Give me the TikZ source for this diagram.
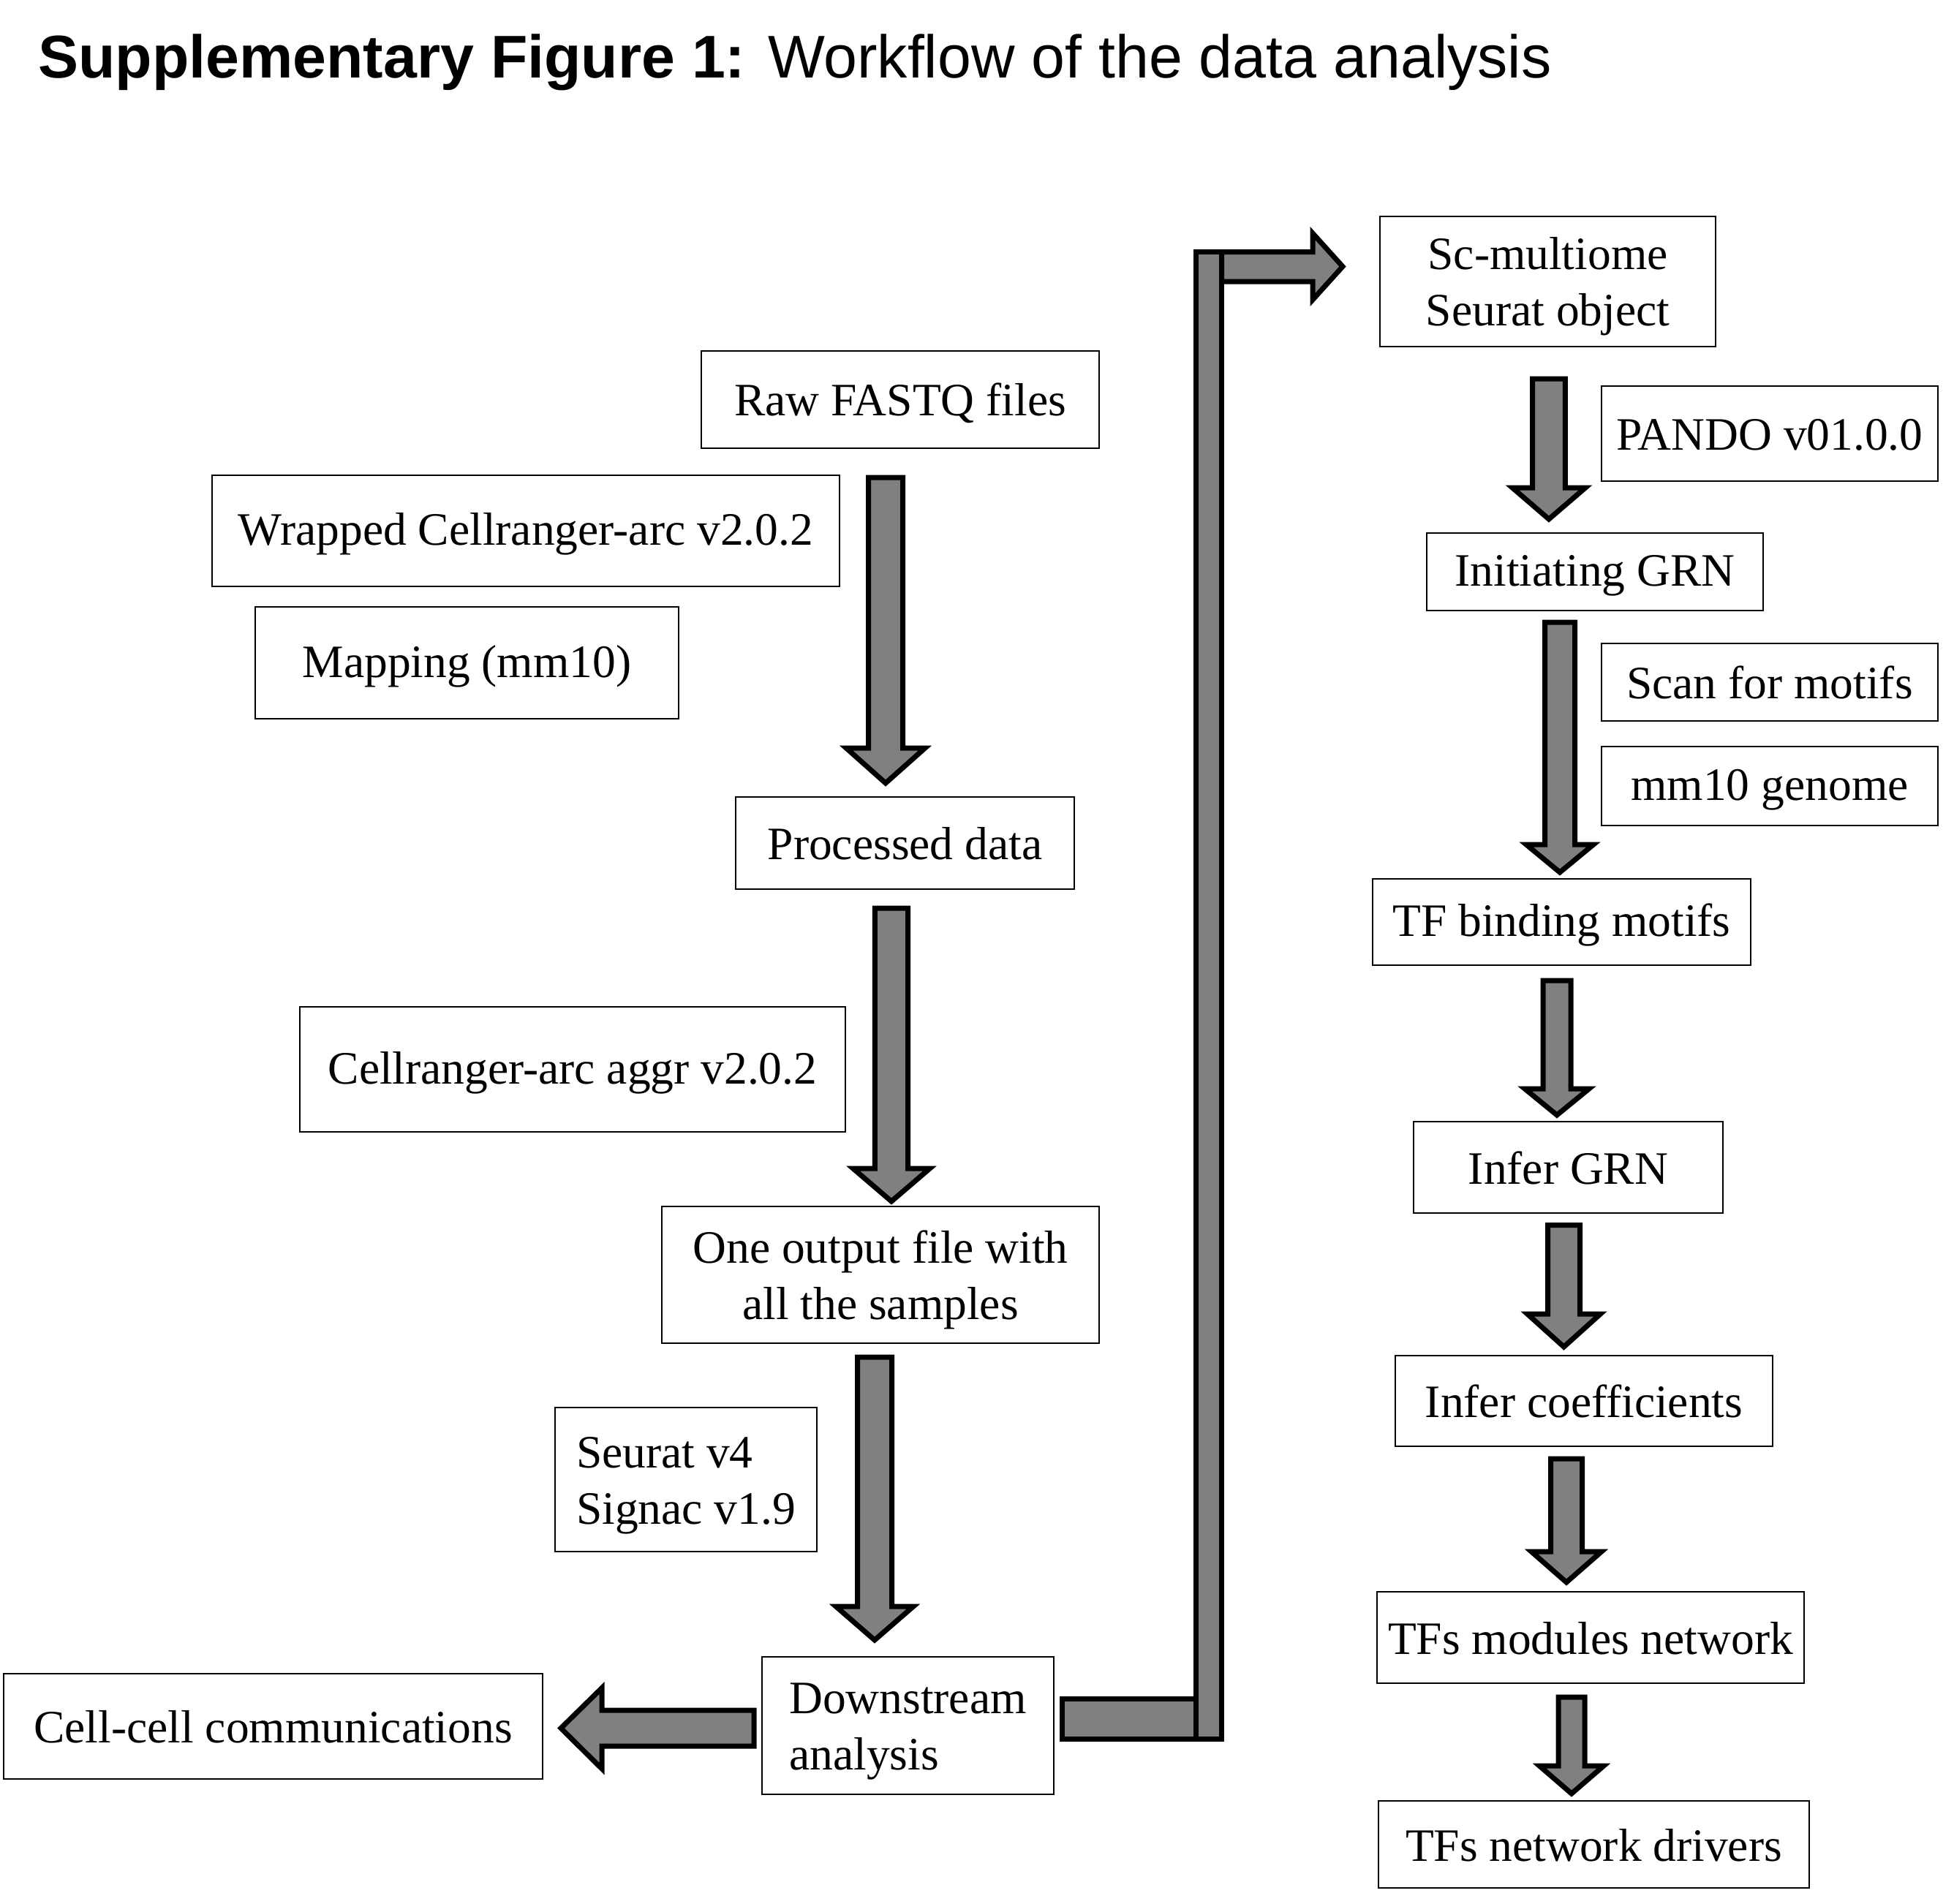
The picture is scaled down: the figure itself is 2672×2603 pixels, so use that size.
\documentclass[tikz,border=0pt]{standalone}
\usepackage{fontspec}
\setmainfont{Liberation Serif}
\newfontfamily\titlefont{Liberation Sans}
\definecolor{arrowgray}{HTML}{808080}
\newcommand{\st}{\rule[-0.12em]{0pt}{0.96em}}
\newcommand{\sd}{\rule[-0.06em]{0pt}{0.98em}}
\tikzset{
  box/.style={draw=black, line width=2.6pt, fill=white, inner sep=0pt,
    font=\fontsize{63.5}{77}\selectfont, align=center},
  blockarrow/.style={draw=black, fill=arrowgray, line width=7pt, line join=miter},
}
% box: name, x1, y1, x2, y2, text
\newcommand{\bx}[6]{\node[box, minimum width={#4-#2}, minimum height={#5-#3}] (#1) at ({(#2+#4)/2},{(#3+#5)/2}) {#6};}
\newcommand{\bxl}[6]{\node[box, align=left, minimum width={#4-#2}, minimum height={#5-#3}] (#1) at ({(#2+#4)/2},{(#3+#5)/2}) {#6};}
% down block arrow: cx, top, shoulder, tip, shaft half width, head half width
\newcommand{\downblk}[6]{\draw[blockarrow] ({#1-#5},#2) -- ({#1+#5},#2) -- ({#1+#5},#3) -- ({#1+#6},#3) -- (#1,#4) -- ({#1-#6},#3) -- ({#1-#5},#3) -- cycle;}
\begin{document}
\begin{tikzpicture}[x=1pt,y=-1pt]
\useasboundingbox (0,0) rectangle (2672,2603);
\node[anchor=base west, inner sep=0pt, font=\titlefont\fontsize{82.5}{99}\selectfont] (title) at (52,106)
  {\textbf{Supplementary Figure 1:} Workflow of the data analysis};

% left column
\bx{raw}{959}{480}{1503}{613}{\st Raw FASTQ files}
\bx{wrapped}{290}{650}{1148}{802}{\st Wrapped Cellranger-arc v2.0.2}
\bx{mapping}{349}{830}{928}{983}{\st Mapping (mm10)}
\bx{processed}{1006}{1090}{1469}{1216}{\st Processed data}
\bx{aggr}{410}{1377}{1156}{1548}{\st Cellranger-arc aggr v2.0.2}
\bx{oneout}{905}{1650}{1503}{1837}{\sd One output file with\\\sd all the samples}
\bxl{seurat}{759}{1925}{1117}{2122}{\sd Seurat v4\\\sd Signac v1.9}
\bxl{down}{1042}{2266}{1441}{2454}{\sd Downstream\\\sd analysis}
\bx{cell}{5}{2289}{742}{2433}{\st Cell-cell communications}

% right column
\bx{scm}{1887}{296}{2346}{474}{\sd Sc-multiome\\\sd Seurat object}
\bx{pando}{2190}{528}{2650}{658}{\st PANDO v01.0.0}
\bx{init}{1951}{729}{2411}{835}{\st Initiating GRN}
\bx{scan}{2190}{880}{2650}{986}{\st Scan for motifs}
\bx{mmgen}{2190}{1021}{2650}{1129}{\st mm10 genome}
\bx{tfbm}{1877}{1202}{2394}{1320}{\st TF binding motifs}
\bx{infergrn}{1933}{1534}{2356}{1659}{\st Infer GRN}
\bx{infercoef}{1908}{1854}{2424}{1978}{\st Infer coefficients}
\bx{tfmod}{1883}{2177}{2467}{2302}{\st TFs modules network}
\bx{tfdrv}{1885}{2463}{2474}{2582}{\st TFs network drivers}

% block arrows, left column
\downblk{1211}{653}{1023}{1071}{23.5}{54}
\downblk{1219}{1242}{1598}{1643}{22.7}{52.5}
\downblk{1196}{1856}{2197}{2243}{23.5}{53}
% left arrow to cell-cell communications
\draw[blockarrow] (1031,2339) -- (823,2339) -- (823,2308.5) -- (767,2363.5)
  -- (823,2419) -- (823,2388) -- (1031,2388) -- cycle;

% elbow connector from downstream analysis to Sc-multiome object
\draw[blockarrow] (1452,2323.5) rectangle (1635.5,2378.5);
\draw[blockarrow] (1635.5,344.5) rectangle (1670.5,2378.5);
\draw[blockarrow] (1670.5,344.5) -- (1795,344.5) -- (1795,319) -- (1836,364.5)
  -- (1795,410) -- (1795,385) -- (1670.5,385) -- cycle;

% block arrows, right column
\downblk{2118}{518}{667}{710}{22.3}{50}
\downblk{2133}{851}{1155}{1193}{20.5}{46}
\downblk{2129}{1341}{1489}{1525}{19}{44}
\downblk{2138.5}{1675.5}{1797}{1842}{22}{50}
\downblk{2142}{1995}{2122}{2164}{21.5}{48}
\downblk{2149}{2321}{2415}{2453}{18}{44}
\end{tikzpicture}
\end{document}
